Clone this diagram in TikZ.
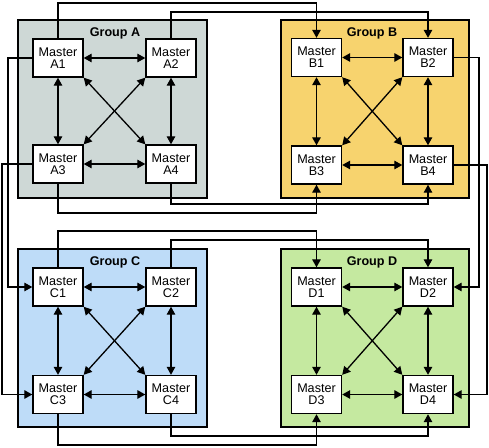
\documentclass[tikz,border=0pt]{standalone}
\usepackage{fontspec}
\setmainfont{Liberation Sans}
\usetikzlibrary{arrows.meta}
\definecolor{gA}{HTML}{CED8D6}
\definecolor{gB}{HTML}{F7D36E}
\definecolor{gC}{HTML}{BEDCF8}
\definecolor{gD}{HTML}{C5E9A0}
\tikzset{
  grp/.style={draw=black, line width=1.4pt},
  master/.style={draw=black, fill=white, line width=1.4pt, minimum width=50pt, minimum height=38pt, inner sep=0pt, align=center, font=\fontsize{12.6}{12.2}\selectfont},
  glabel/.style={font=\fontsize{12.6}{12}\selectfont\bfseries},
  link/.style={line width=1.3pt, -{Triangle[length=8pt,width=8.5pt]}},
  both/.style={line width=1.3pt, {Triangle[length=8pt,width=8.5pt]}-{Triangle[length=8pt,width=8.5pt]}},
}
\begin{document}
\begin{tikzpicture}[x=1pt,y=-1pt]
\useasboundingbox (0,0) rectangle (489,447);
% groups
\path[grp, fill=gA] (18,20) rectangle (207,198);
\path[grp, fill=gB] (281,20) rectangle (469,198);
\path[grp, fill=gC] (18,249) rectangle (207,427);
\path[grp, fill=gD] (281,249) rectangle (469,427);
\node[glabel] (LA) at (115,33) {Group A};
\node[glabel] (LB) at (372,33) {Group B};
\node[glabel] (LC) at (115,262) {Group C};
\node[glabel] (LD) at (372,262) {Group D};
% masters
\node[master] (A1) at (58,58) {Master\\A1};
\node[master] (A2) at (171,58) {Master\\A2};
\node[master] (A3) at (58,164) {Master\\A3};
\node[master] (A4) at (171,164) {Master\\A4};
\node[master] (B1) at (316.5,57.5) {Master\\B1};
\node[master] (B2) at (428,57.5) {Master\\B2};
\node[master] (B3) at (316.5,165) {Master\\B3};
\node[master] (B4) at (428,165) {Master\\B4};
\node[master] (C1) at (58,287) {Master\\C1};
\node[master] (C2) at (171,287) {Master\\C2};
\node[master] (C3) at (58,394.5) {Master\\C3};
\node[master] (C4) at (171,394.5) {Master\\C4};
\node[master] (D1) at (316.5,287) {Master\\D1};
\node[master] (D2) at (428,287) {Master\\D2};
\node[master] (D3) at (316.5,394.5) {Master\\D3};
\node[master] (D4) at (428,394.5) {Master\\D4};
% inner links
\foreach \g in {A,B,C,D}{
  \draw[both] (\g1.east) -- (\g2.west);
  \draw[both] (\g3.east) -- (\g4.west);
  \draw[both] (\g1.south) -- (\g3.north);
  \draw[both] (\g2.south) -- (\g4.north);
  \draw[both] (\g1.south east) -- (\g4.north west);
  \draw[both] (\g2.south west) -- (\g3.north east);
}
% corridor coordinates
\coordinate (t1) at (0,3);
\coordinate (t2) at (0,12);
\coordinate (b1) at (0,204);
\coordinate (b2) at (0,213);
\coordinate (t3) at (0,231);
\coordinate (t4) at (0,240);
\coordinate (b3) at (0,436);
\coordinate (b4) at (0,445);
\coordinate (l1) at (8,0);
\coordinate (l2) at (2,0);
\coordinate (r1) at (479,0);
\coordinate (r2) at (487,0);
% outer links
\draw[link] (A1.north) -- (A1.north |- t1) -| (B1.north);
\draw[link] (A2.north) -- (A2.north |- t2) -| (B2.north);
\draw[link] (A4.south) -- (A4.south |- b1) -| (B4.south);
\draw[link] (A3.south) -- (A3.south |- b2) -| (B3.south);
\draw[link] (C1.north) -- (C1.north |- t3) -| (D1.north);
\draw[link] (C2.north) -- (C2.north |- t4) -| (D2.north);
\draw[link] (C4.south) -- (C4.south |- b3) -| (D4.south);
\draw[link] (C3.south) -- (C3.south |- b4) -| (D3.south);
\draw[link] (A1.west) -- (A1.west -| l1) |- (C1.west);
\draw[link] (A3.west) -- (A3.west -| l2) |- (C3.west);
\draw[link] (B2.east) -- (B2.east -| r1) |- (D2.east);
\draw[link] (B4.east) -- (B4.east -| r2) |- (D4.east);
\end{tikzpicture}
\end{document}
